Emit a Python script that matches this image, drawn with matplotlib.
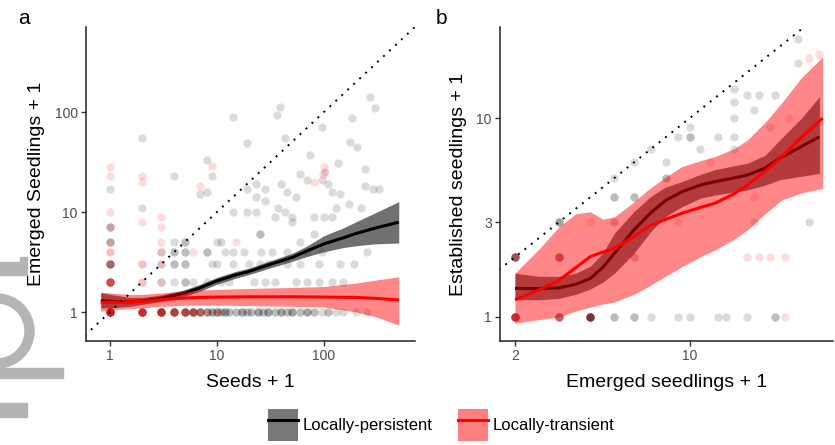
import numpy as np
import matplotlib
matplotlib.use("Agg")
import matplotlib.pyplot as plt
from matplotlib.patches import Patch, Rectangle, Wedge
from matplotlib.lines import Line2D

plt.rcParams['font.family'] = ['Liberation Sans', 'DejaVu Sans']

# ---------------- data: panel a (Seeds + 1 vs Emerged + 1) ----------------
a_pers_x = [2, 14, 39, 36, 270, 300, 95, 182, 175, 205, 43, 19, 74, 135, 241, 60, 70, 102, 8, 4, 9, 23, 19, 28,
            40, 95, 110, 240, 290, 330, 224, 1, 7, 8, 23, 28, 45, 55, 120, 140, 37, 43, 14, 19, 23, 35, 50, 80,
            100, 120, 50, 130, 170, 2, 1, 1, 4, 5, 10, 11, 25, 60, 80,
            3, 4, 5, 8, 12, 14, 18, 26, 33, 45, 70, 95, 250,
            1, 3, 4, 5, 9, 10, 14, 20, 25, 30, 45, 60, 90, 140, 190,
            1, 3, 4, 5, 6, 8, 11, 13, 22, 28, 35, 55, 70, 90, 120, 150,
            1, 2, 3, 4, 5, 6, 7, 8, 9, 10, 11, 12, 13, 15, 17, 19, 21, 24, 27, 30, 35, 40, 45, 50, 60, 70, 80,
            95, 110, 130, 150, 200, 250]
a_pers_y = [55, 90, 113, 93, 142, 110, 71, 87, 50, 45, 55, 49, 37, 31, 27, 24, 21, 25, 33, 23, 23, 19, 17, 17,
            19, 21, 19, 18, 17, 17, 11, 17, 15, 16, 14, 13, 16, 14, 16, 15, 11, 10, 10, 10, 10, 9, 9, 9,
            9, 9, 8, 11, 12, 11, 7, 5, 5, 5, 5, 5, 6, 5, 6,
            4, 4, 4, 4, 4, 4, 4, 4, 4, 4, 4, 4, 4,
            3, 3, 3, 3, 3, 3, 3, 3, 3, 3, 3, 3, 3, 3, 3,
            2, 2, 2, 2, 2, 2, 2, 2, 2, 2, 2, 2, 2, 2, 2, 2,
            1, 1, 1, 1, 1, 1, 1, 1, 1, 1, 1, 1, 1, 1, 1, 1, 1, 1, 1, 1, 1, 1, 1, 1, 1, 1, 1,
            1, 1, 1, 1, 1, 1]
a_pers_n = [1, 1, 1, 1, 1, 1, 1, 1, 1, 1, 1, 1, 1, 1, 1, 1, 1, 1, 1, 1, 1, 1, 1, 1,
            1, 1, 1, 1, 1, 1, 1, 1, 1, 1, 1, 1, 1, 1, 1, 1, 1, 1, 1, 1, 1, 1, 1, 1,
            1, 1, 1, 1, 1, 1, 2, 2, 1, 2, 1, 1, 2, 1, 1,
            1, 2, 2, 2, 1, 1, 1, 1, 1, 1, 1, 1, 1,
            4, 1, 2, 2, 1, 1, 1, 1, 1, 1, 1, 1, 1, 1, 1,
            3, 1, 1, 2, 1, 1, 1, 1, 1, 1, 1, 1, 1, 1, 1, 1,
            6, 5, 6, 5, 5, 5, 4, 3, 3, 3, 2, 3, 2, 2, 3, 2, 2, 3, 2, 3, 2, 3, 2, 3, 2, 3, 2,
            1, 2, 1, 1, 1, 1]

a_tran_x = [1, 1, 1, 1, 1, 1, 1, 1, 1, 2, 2, 2, 2, 2, 2, 3, 3, 3, 3, 3, 3, 3,
            4, 5, 6, 7, 8, 10, 7, 9, 98, 100, 6, 15, 80]
a_tran_y = [28, 23, 10, 7, 5, 4, 3, 2, 1, 23, 20, 8, 3, 2, 1, 9, 7, 5, 4, 3, 2, 1,
            1, 1, 1, 1, 1, 1, 18, 29, 24, 28, 4, 5, 20]
a_tran_n = [1, 1, 1, 1, 1, 2, 2, 5, 8, 1, 1, 1, 2, 2, 6, 1, 1, 1, 1, 1, 1, 5,
            4, 3, 3, 2, 1, 1, 1, 1, 1, 1, 1, 1, 1]

# smoothed fits
a_pers_cx = [0.82, 1, 1.5, 2, 3, 5, 7, 10, 15, 20, 30, 50, 70, 100, 150, 200, 300, 500]
a_pers_fit = [1.3, 1.28, 1.26, 1.29, 1.37, 1.55, 1.75, 2.05, 2.35, 2.55, 2.95, 3.5, 4.1, 4.8, 5.5, 6.1, 6.9, 7.9]
a_pers_lo = [1.1, 1.1, 1.14, 1.19, 1.27, 1.44, 1.62, 1.9, 2.18, 2.37, 2.72, 3.2, 3.6, 4.0, 4.4, 4.6, 4.8, 4.9]
a_pers_hi = [1.56, 1.5, 1.4, 1.4, 1.48, 1.67, 1.9, 2.22, 2.55, 2.75, 3.2, 3.85, 4.6, 5.8, 6.9, 8.0, 9.8, 12.7]

a_tran_cx = [0.82, 1, 1.5, 2, 3, 5, 7, 10, 20, 50, 100, 200, 300, 500]
a_tran_fit = [1.25, 1.25, 1.26, 1.28, 1.33, 1.38, 1.4, 1.41, 1.42, 1.42, 1.41, 1.4, 1.37, 1.32]
a_tran_lo = [1.02, 1.05, 1.08, 1.1, 1.14, 1.17, 1.17, 1.17, 1.16, 1.14, 1.12, 1.0, 0.9, 0.74]
a_tran_hi = [1.58, 1.55, 1.5, 1.5, 1.55, 1.62, 1.66, 1.68, 1.72, 1.76, 1.8, 1.95, 2.08, 2.25]

# ---------------- data: panel b (Emerged + 1 vs Established + 1) ----------------
b_pers_x = [2, 2, 3, 3, 3, 4, 5, 5, 5, 6, 6, 7, 7, 8, 8, 9, 10, 10, 10, 9, 11, 13, 15, 15, 15, 15, 15, 17,
            18, 19, 22, 21, 27, 27, 13, 14, 17, 22, 18, 30, 6, 5, 6]
b_pers_y = [2, 1, 3, 2, 1, 1, 1, 4, 3, 1, 4, 1, 7, 5, 6, 1, 1, 9, 8, 8, 7, 8, 8, 7, 10, 12, 14, 13,
            11, 13, 13, 9, 25, 19, 1, 1, 1, 1, 3, 3, 2, 5, 6]
b_pers_n = [5, 5, 3, 3, 3, 8, 2, 2, 1, 2, 2, 1, 1, 2, 1, 1, 1, 1, 2, 1, 1, 1, 1, 1, 1, 1, 1, 1,
            1, 1, 1, 1, 1, 1, 1, 1, 1, 2, 1, 1, 1, 1, 1]

b_tran_x = [2, 2, 3, 3, 4, 5, 6, 4, 33, 24, 17, 19, 21, 24, 12, 9, 18, 25, 30]
b_tran_y = [2, 1, 2, 1, 3, 3, 2, 1, 21, 1, 2, 2, 2, 2, 6, 3, 4, 10, 20]
b_tran_n = [2, 5, 3, 3, 1, 1, 1, 2, 1, 1, 1, 1, 1, 1, 1, 1, 1, 1, 1]

b_pers_cx = [2, 2.5, 3, 3.5, 4, 4.5, 5, 6, 7, 8, 9.3, 11, 12.6, 15, 17, 20, 23, 28, 33]
b_pers_fit = [1.39, 1.39, 1.4, 1.46, 1.56, 1.78, 2.09, 2.75, 3.35, 3.85, 4.26, 4.6, 4.79, 5.0, 5.17, 5.6, 6.3, 7.2, 8.05]
b_pers_lo = [1.22, 1.22, 1.24, 1.3, 1.38, 1.5, 1.66, 2.1, 2.7, 3.2, 3.58, 3.95, 4.1, 4.25, 4.35, 4.6, 4.9, 5.1, 5.27]
b_pers_hi = [1.66, 1.6, 1.6, 1.66, 1.8, 2.1, 2.64, 3.4, 4.05, 4.5, 4.79, 5.2, 5.5, 5.75, 5.93, 6.5, 7.8, 10.0, 12.8]

b_tran_cx = [2, 2.5, 3, 3.5, 4, 4.5, 5, 6, 6.8, 8, 9.3, 11, 12.6, 15, 17, 20, 23.3, 28, 34]
b_tran_fit = [1.22, 1.37, 1.53, 1.77, 2.01, 2.12, 2.21, 2.55, 2.84, 3.1, 3.32, 3.55, 3.73, 4.15, 4.6, 5.4, 6.38, 8.0, 10.0]
b_tran_lo = [0.93, 0.97, 1.0, 1.07, 1.12, 1.16, 1.19, 1.3, 1.42, 1.6, 1.79, 2.0, 2.17, 2.45, 2.74, 3.3, 3.87, 4.2, 4.43]
b_tran_hi = [1.66, 2.2, 2.84, 3.3, 3.38, 3.1, 3.19, 3.8, 4.35, 5.05, 5.7, 6.1, 6.4, 7.0, 7.75, 9.5, 11.9, 16.0, 20.3]

a_ticks = [1, 10, 100]
a_ticklabels = ['1', '10', '100']
b_xticks = [2, 10]
b_xticklabels = ['2', '10']
b_yticks = [1, 3, 10]
b_yticklabels = ['1', '3', '10']
series_names = ['Locally-persistent', 'Locally-transient']

# ---------------- styling ----------------
GREY_BAND = '#333333'
RED = '#ff0000'
W, H = 835, 445
fig = plt.figure(figsize=(W / 100, H / 100), dpi=100)

axA = fig.add_axes([86 / W, 1 - 341 / H, (415 - 86) / W, (341 - 27) / H])
axB = fig.add_axes([500 / W, 1 - 341 / H, (833 - 500) / W, (341 - 27) / H])


def scatter(ax, x, y, n, color):
    ax.scatter(np.repeat(x, n), np.repeat(y, n), s=36, color=color, alpha=0.14,
               linewidths=0, zorder=1)


def fits(ax, px, pf, plo, phi, tx, tf, tlo, thi):
    ax.fill_between(px, plo, phi, color=GREY_BAND, alpha=0.7, lw=0, zorder=2)
    ax.plot(px, pf, color='black', lw=2.2, zorder=3, solid_capstyle='butt')
    ax.fill_between(tx, tlo, thi, color=RED, alpha=0.47, lw=0, zorder=4)
    ax.plot(tx, tf, color=RED, lw=2.2, zorder=5, solid_capstyle='butt')


def style(ax, xlim, ylim, xt, xtl, yt, ytl, xlabel, ylabel):
    ax.set_xscale('log')
    ax.set_yscale('log')
    ax.set_xlim(*xlim)
    ax.set_ylim(*ylim)
    lo = min(xlim[0], ylim[0])
    hi = max(xlim[1], ylim[1])
    ax.plot([lo, hi], [lo, hi], color='black', lw=1.4, ls=(0, (1, 3.2)), zorder=6)
    ax.set_xticks(xt)
    ax.set_xticklabels(xtl)
    ax.set_yticks(yt)
    ax.set_yticklabels(ytl)
    ax.minorticks_off()
    for s in ['top', 'right']:
        ax.spines[s].set_visible(False)
    for s in ['left', 'bottom']:
        ax.spines[s].set_linewidth(1.1)
        ax.spines[s].set_color('#222222')
    ax.tick_params(length=3.5, width=1, color='#333333', labelcolor='#4d4d4d',
                   labelsize=10, pad=2.5)
    ax.set_xlabel(xlabel, fontsize=14, labelpad=8)
    ax.set_ylabel(ylabel, fontsize=14, labelpad=7)


scatter(axA, a_pers_x, a_pers_y, a_pers_n, 'black')
scatter(axA, a_tran_x, a_tran_y, a_tran_n, RED)
fits(axA, a_pers_cx, a_pers_fit, a_pers_lo, a_pers_hi, a_tran_cx, a_tran_fit, a_tran_lo, a_tran_hi)
style(axA, (0.597, 709), (0.513, 708), a_ticks, a_ticklabels, a_ticks, a_ticklabels,
      'Seeds + 1', 'Emerged Seedlings + 1')

scatter(axB, b_pers_x, b_pers_y, b_pers_n, 'black')
scatter(axB, b_tran_x, b_tran_y, b_tran_n, RED)
fits(axB, b_pers_cx, b_pers_fit, b_pers_lo, b_pers_hi, b_tran_cx, b_tran_fit, b_tran_lo, b_tran_hi)
style(axB, (1.742, 37.4), (0.757, 28.7), b_xticks, b_xticklabels, b_yticks, b_yticklabels,
      'Emerged seedlings + 1', 'Established seedlings + 1')

fig.text(18 / W, 1 - 24 / H, 'a', fontsize=15, ha='left', va='baseline')
fig.text(436 / W, 1 - 24 / H, 'b', fontsize=15, ha='left', va='baseline')

handles = [(Patch(facecolor='#777777', edgecolor='none'), Line2D([], [], color='black', lw=2.2)),
           (Patch(facecolor='#ff8080', edgecolor='none'), Line2D([], [], color=RED, lw=2.2))]
fig.legend(handles, series_names, loc='center', bbox_to_anchor=(441 / W, 1 - 425 / H), ncol=2,
           frameon=False, fontsize=12, handlelength=1.8, handleheight=2.5,
           handletextpad=0.3, columnspacing=1.5, borderaxespad=0, borderpad=0)

# grey graphic fragment at the lower-left edge of the reference image
ART = '#b4b4b4'
fig.patches.extend([
    Rectangle((0, H - 275), 27, 13, color=ART, transform=None, figure=fig),
    Rectangle((20, H - 262), 7, 5, color=ART, transform=None, figure=fig),
    Wedge((-3, H - 331), 37, -90, 90, width=9, color=ART, transform=None, figure=fig),
    Rectangle((0, H - 378), 63, 10, color=ART, transform=None, figure=fig),
    Rectangle((0, H - 417), 27, 14, color=ART, transform=None, figure=fig),
])

fig.savefig('out.png', dpi=100)
